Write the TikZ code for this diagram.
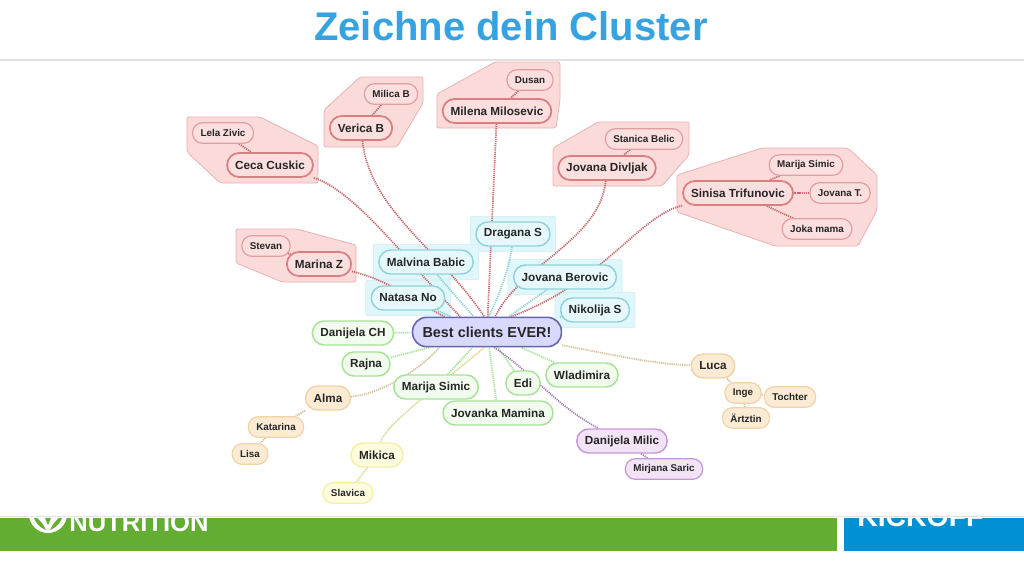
\documentclass[tikz,border=0pt]{standalone}
\usepackage{fontspec}
\setmainfont{Liberation Sans}
\usepackage{tikz}
\usetikzlibrary{shapes,arrows,backgrounds,fit}
\definecolor{titleblue}{HTML}{36A3E0}
\definecolor{barbgreen}{HTML}{63AD33}
\definecolor{barblue}{HTML}{0090D3}
\definecolor{redborder}{HTML}{D97F82}
\definecolor{redfill}{HTML}{FBDEDE}
\definecolor{redhalo}{HTML}{FBDADA}
\definecolor{redlink}{HTML}{C9686C}
\definecolor{tealborder}{HTML}{8FD3D8}
\definecolor{tealfill}{HTML}{E6F8FB}
\definecolor{tealhalo}{HTML}{DFF7FB}
\definecolor{teallink}{HTML}{8FD2CF}
\definecolor{greenborder}{HTML}{A6E396}
\definecolor{greenfill}{HTML}{F1FBEE}
\definecolor{orangeborder}{HTML}{F0D3A6}
\definecolor{orangefill}{HTML}{FBEBD5}
\definecolor{yellowborder}{HTML}{F4EFA4}
\definecolor{yellowfill}{HTML}{FEFCDF}
\definecolor{purpleborder}{HTML}{C597D8}
\definecolor{purplefill}{HTML}{F2E3F7}
\tikzstyle{block} = [rectangle, draw, rounded corners=8.9pt, text=black!85, font=\bfseries\fontsize{8.8pt}{10pt}\selectfont, inner xsep=6pt, inner ysep=0pt, minimum height=18pt, line width=1.1pt]
\tikzstyle{leaf} = [block, rounded corners=7.6pt, font=\bfseries\fontsize{7.4pt}{9pt}\selectfont, minimum height=15.5pt, line width=0.9pt]
\tikzstyle{root} = [block, draw=blue!45!black!60, fill=blue!15, rounded corners=10.5pt, font=\bfseries\fontsize{10.8pt}{12pt}\selectfont, inner xsep=7.5pt, minimum height=22pt, line width=1.2pt]
\tikzstyle{redmain} = [block, draw=redborder, fill=redfill, line width=1.3pt]
\tikzstyle{redleaf} = [leaf, draw=redborder!75, fill=redfill]
\tikzstyle{tealmain} = [block, draw=tealborder, fill=tealfill]
\tikzstyle{greenmain} = [block, draw=greenborder, fill=greenfill]
\tikzstyle{orangemain} = [block, draw=orangeborder, fill=orangefill]
\tikzstyle{orangeleaf} = [leaf, draw=orangeborder, fill=orangefill]
\tikzstyle{yellowmain} = [block, draw=yellowborder, fill=yellowfill]
\tikzstyle{yellowleaf} = [leaf, draw=yellowborder, fill=yellowfill]
\tikzstyle{purplemain} = [block, draw=purpleborder, fill=purplefill]
\tikzstyle{purpleleaf} = [leaf, draw=purpleborder, fill=purplefill]
\tikzstyle{redgroup} = [draw=redborder!60, fill=redhalo, line width=0.6pt, rounded corners=1.5pt]
\tikzstyle{tealgroup} = [rectangle, draw=tealborder!40, fill=tealhalo, inner sep=3.7pt, line width=0.5pt, rounded corners=1.5pt]
\tikzstyle{line} = [draw, dash pattern=on 0.9pt off 0.7pt, line width=1.3pt]
\tikzstyle{redline} = [line, redlink]
\tikzstyle{tealline} = [line, teallink]
\tikzstyle{greenline} = [line, greenborder]
\tikzstyle{orangeline} = [line, orangeborder!90!black]
\tikzstyle{yellowline} = [line, yellowborder!90!black]
\tikzstyle{purpleline} = [line, purpleborder!85!black]
\begin{document}
\begin{tikzpicture}[x=0.75pt, y=-0.75pt]
    \useasboundingbox (0,0) rectangle (1024,576);
    % Title and rules
    \node [text=titleblue, font=\bfseries\fontsize{30pt}{34pt}\selectfont, anchor=base] (title) at (511,40) {Zeichne dein Cluster};
    \draw [black!12, line width=1pt] (0,60) -- (1024,60);
    \draw [black!12, line width=1.2pt] (0,516.5) -- (1024,516.5);
    % Footer, cut off by the slide above it
    \fill [barbgreen] (0,518) rectangle (837,551);
    \fill [barblue] (844,518) rectangle (1024,551);
    \begin{scope}
        \clip (0,518) rectangle (1024,551);
        \fill [white] (48,514) circle (19);
        \fill [barbgreen] (34,518) .. controls (36,524) and (41,528) .. (46,530) .. controls (44,526) and (42,522) .. (37,518) -- cycle;
        \fill [barbgreen] (62,518) .. controls (60,524) and (55,528) .. (50,530) .. controls (52,526) and (54,522) .. (59,518) -- cycle;
        \fill [barbgreen] (45,518) -- (48,525) -- (51,518) -- cycle;
        \node [text=white, font=\bfseries\fontsize{19.2pt}{20pt}\selectfont, anchor=base west, inner sep=0pt] (nutrition) at (69,531) {NUTRITION};
        \node [text=white, font=\bfseries\fontsize{21.3pt}{23pt}\selectfont, anchor=base west, inner sep=0pt] (kickoff) at (857,526) {KICKOFF};
    \end{scope}
    % Place nodes
    \node [root] (best) at (487,332) {Best clients EVER!};
    \node [redmain] (ceca) at (270,165) {Ceca Cuskic};
    \node [redleaf] (lela) at (223,133) {Lela Zivic};
    \node [redmain] (verica) at (361,128) {Verica B};
    \node [redleaf] (milica) at (391,94) {Milica B};
    \node [redmain] (milena) at (497,111) {Milena Milosevic};
    \node [redleaf] (dusan) at (530,80) {Dusan};
    \node [redmain] (divljak) at (607,168) {Jovana Divljak};
    \node [redleaf] (stanica) at (644,139) {Stanica Belic};
    \node [redmain] (sinisa) at (738,193) {Sinisa Trifunovic};
    \node [redleaf] (marijared) at (806,165) {Marija Simic};
    \node [redleaf] (jovanat) at (840,193) {Jovana T.};
    \node [redleaf] (joka) at (817,229) {Joka mama};
    \node [redmain] (marina) at (319,264) {Marina Z};
    \node [redleaf] (stevan) at (266,246) {Stevan};
    \node [tealmain] (dragana) at (513,234) {Dragana S};
    \node [tealmain] (malvina) at (426,262) {Malvina Babic};
    \node [tealmain] (natasa) at (408,298) {Natasa No};
    \node [tealmain] (berovic) at (565,277) {Jovana Berovic};
    \node [tealmain] (nikolija) at (595,310) {Nikolija S};
    \node [greenmain] (danijelach) at (353,333) {Danijela CH};
    \node [greenmain] (rajna) at (366,364) {Rajna};
    \node [greenmain] (marijagreen) at (436,387) {Marija Simic};
    \node [greenmain] (edi) at (523,383) {Edi};
    \node [greenmain] (wladimira) at (582,375) {Wladimira};
    \node [greenmain] (jovanka) at (498,413) {Jovanka Mamina};
    \node [orangemain] (alma) at (328,398) {Alma};
    \node [orangeleaf] (katarina) at (276,427) {Katarina};
    \node [orangeleaf] (lisa) at (250,454) {Lisa};
    \node [orangemain] (luca) at (713,366) {Luca};
    \node [orangeleaf] (inge) at (743,393) {Inge};
    \node [orangeleaf] (tochter) at (790,397) {Tochter};
    \node [orangeleaf] (aertztin) at (746,418) {Ärtztin};
    \node [yellowmain] (mikica) at (377,455) {Mikica};
    \node [yellowleaf] (slavica) at (348,493) {Slavica};
    \node [purplemain] (milic) at (622,441) {Danijela Milic};
    \node [purpleleaf] (mirjana) at (664,469) {Mirjana Saric};
    \begin{scope}[on background layer]
        % Groups behind the nodes
        \draw [redgroup] (187,117) -- (260,117) -- (318,146) -- (318,183) -- (220,183) -- (187,152) -- cycle;
        \draw [redgroup] (360,77) -- (423,77) -- (423,103) -- (397,147) -- (324,147) -- (324,110) -- cycle;
        \draw [redgroup] (437,94) -- (495,62) -- (560,62) -- (560,100) -- (556,128) -- (437,128) -- cycle;
        \draw [redgroup] (553,148) -- (598,122) -- (689,122) -- (689,155) -- (662,186) -- (553,186) -- cycle;
        \draw [redgroup] (677,175) -- (762,148) -- (848,148) -- (877,175) -- (877,210) -- (858,246) -- (775,246) -- (677,212) -- cycle;
        \draw [redgroup] (236,229) -- (297,229) -- (356,245) -- (356,282) -- (282,282) -- (236,263) -- cycle;
        \node [tealgroup, fit=(dragana)] (draganagroup) {};
        \node [tealgroup, fit=(malvina)] (malvinagroup) {};
        \node [tealgroup, fit=(natasa)] (natasagroup) {};
        \node [tealgroup, fit=(berovic)] (berovicgroup) {};
        \node [tealgroup, fit=(nikolija)] (nikolijagroup) {};
        % Draw edges
        \path [redline] (lela) -- (ceca);
        \path [redline] (milica) -- (verica);
        \path [redline] (dusan) -- (milena);
        \path [redline] (stanica) -- (divljak);
        \path [redline] (marijared) -- (sinisa);
        \path [redline] (jovanat) -- (sinisa);
        \path [redline] (joka) -- (sinisa);
        \path [redline] (stevan) -- (marina);
        \path [redline] (ceca) .. controls (355,190) and (410,265) .. (best.150);
        \path [redline] (verica) .. controls (370,210) and (440,250) .. (best.100);
        \path [redline] (milena) -- (best);
        \path [redline] (divljak) .. controls (600,240) and (520,265) .. (best.62);
        \path [redline] (sinisa) .. controls (640,215) and (600,285) .. (best.33);
        \path [redline] (marina) .. controls (390,280) and (420,305) .. (best.160);
        \path [tealline] (malvina) -- (best);
        \path [tealline] (natasa) -- (best);
        \path [tealline] (dragana) .. controls (510,265) and (500,295) .. (best.85);
        \path [tealline] (berovic) -- (best);
        \path [tealline] (nikolija) -- (best);
        \path [greenline] (danijelach) -- (best);
        \path [greenline] (rajna) -- (best.195);
        \path [greenline] (marijagreen) -- (best);
        \path [greenline] (edi) -- (best);
        \path [greenline] (wladimira) -- (best);
        \path [greenline] (jovanka) -- (best);
        \path [orangeline] (alma) .. controls (375,395) and (415,375) .. (best.198);
        \path [orangeline] (alma) -- (katarina);
        \path [orangeline] (katarina) -- (lisa);
        \path [orangeline] (best) .. controls (600,352) and (650,364) .. (luca);
        \path [orangeline] (luca) -- (inge);
        \path [orangeline] (inge) -- (tochter);
        \path [orangeline] (inge) -- (aertztin);
        \path [yellowline] (mikica) .. controls (385,425) and (440,385) .. (best.260);
        \path [yellowline] (mikica) -- (slavica);
        \path [purpleline] (best.-65) .. controls (535,375) and (555,405) .. (milic);
        \path [purpleline] (milic) -- (mirjana);
    \end{scope}
\end{tikzpicture}
\end{document}
